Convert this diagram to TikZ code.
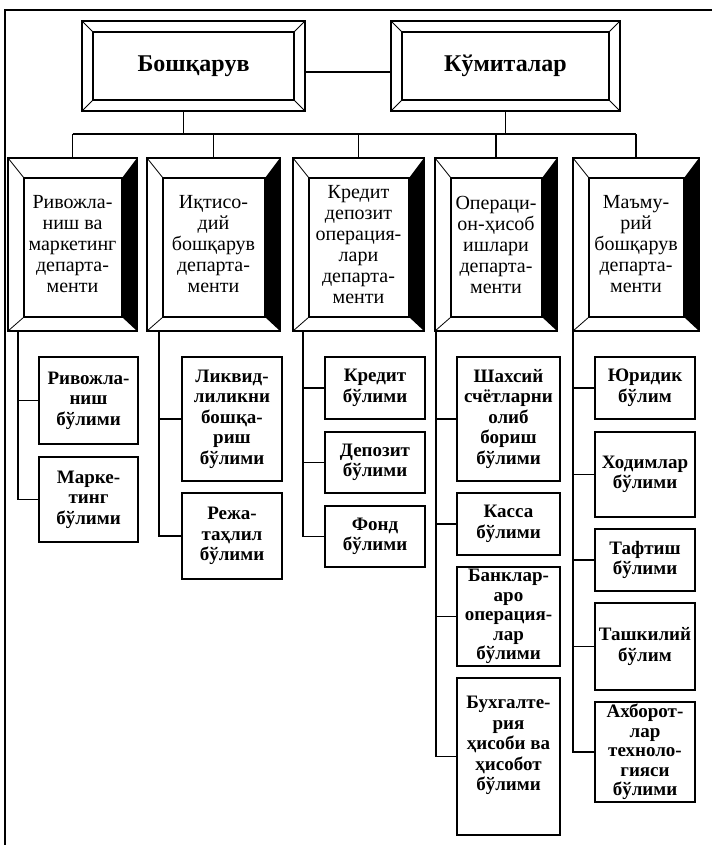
\documentclass[tikz,border=0pt]{standalone}
\usepackage{fontspec}
\setmainfont{Liberation Serif}
\usepackage{tikz}
\usetikzlibrary{calc}

\begin{document}
\begin{tikzpicture}[x=1pt,y=-1pt,
 topb/.style={draw,line width=2.6pt,outer sep=0pt,inner sep=0pt,minimum width=223pt,minimum height=90pt,font=\fontsize{24}{28}\selectfont\bfseries},
 dep/.style={draw,line width=1.4pt,outer sep=0pt,inner sep=0pt,minimum height=173pt,align=center,font=\fontsize{20}{21}\selectfont},
 sub/.style={draw,line width=1.5pt,outer sep=0pt,inner sep=0pt,align=center,font=\fontsize{19}{20.5}\selectfont\bfseries},
 tight/.style={font=\fontsize{19}{19.4}\selectfont\bfseries},
 ln/.style={line width=1.1pt}]
\useasboundingbox (0,0) rectangle (712,845);
\draw[ln] (712,10) -- (5,10) -- (5,845);

% top level
\node[topb] (bosh) at (193.5,66) {Бошқарув};
\node[topb,minimum width=229pt] (kum) at (505.5,66) {Кўмиталар};
\foreach \n in {bosh,kum}{
  \draw[line width=2pt] ($(\n.north west)+(11,11)$) rectangle ($(\n.south east)+(-11,-11)$);
  \draw[line width=0.8pt] (\n.north west) -- +(11,11) (\n.north east) -- +(-11,11)
    (\n.south west) -- +(11,-11) (\n.south east) -- +(-11,-11);}
\draw[ln] ([yshift=-6pt]bosh.east) -- ([yshift=-6pt]kum.west);

% departments
\foreach \n/\x/\w/\t in {d1/72.5/129/{Ривожла-\\ниш ва\\маркетинг\\департа-\\менти},
  d2/213.5/133/{Иқтисо-\\дий\\бошқарув\\департа-\\менти},
  d3/358.5/131/{Кредит\\депозит\\операция-\\лари\\департа-\\менти},
  d4/496/122/{Операци-\\он-ҳисоб\\ишлари\\департа-\\менти},
  d5/636/126/{Маъму-\\рий\\бошқарув\\департа-\\менти}}{
  \node[dep,minimum width=\w pt] (\n) at (\x,244.5) {\t};
  \coordinate (\n-tl) at ($(\n.north west)+(16,20)$);
  \coordinate (\n-br) at ($(\n.south east)+(-15,-14)$);
  \fill (\n.north east) -- (\n.south east) -- (\n-br) -- (\n-tl -| \n-br) -- cycle;
  \draw[line width=1.1pt] (\n-tl) rectangle (\n-br);
  \draw[line width=0.8pt] (\n.north west) -- (\n-tl) (\n.south west) -- (\n-tl |- \n-br);}

\coordinate (bus) at (0,134);
\draw[ln] ([xshift=-10pt]bosh.south) -- ([xshift=-10pt]bosh.south |- bus) (kum.south) -- (kum.south |- bus)
  (d1.north |- bus) -- (d5.north |- bus);
\foreach \i in {1,...,5} \draw[ln] (d\i.north |- bus) -- (d\i.north);

% sections
\node[sub,minimum width=99pt,minimum height=87pt] (r1) at (88.5,400.5) {Ривожла-\\ниш\\бўлими};
\node[sub,minimum width=99pt,minimum height=85pt] (m1) at (88.5,499.5) {Марке-\\тинг\\бўлими};
\node[sub,minimum width=100pt,minimum height=124pt] (l2) at (232,419) {Ликвид-\\лиликни\\бошқа-\\риш\\бўлими};
\node[sub,minimum width=100pt,minimum height=86pt] (p2) at (232,536) {Режа-\\таҳлил\\бўлими};
\node[sub,minimum width=100pt,minimum height=62pt] (k3) at (375,388) {Кредит\\бўлими};
\node[sub,minimum width=100pt,minimum height=61pt] (dp3) at (375,462.5) {Депозит\\бўлими};
\node[sub,minimum width=100pt,minimum height=61pt] (f3) at (375,536.5) {Фонд\\бўлими};
\node[sub,minimum width=103pt,minimum height=124pt] (sh4) at (508.5,419) {Шахсий\\счётларни\\олиб\\бориш\\бўлими};
\node[sub,minimum width=103pt,minimum height=62pt] (ka4) at (508.5,524) {Касса\\бўлими};
\node[sub,tight,minimum width=103pt,minimum height=99pt] (bn4) at (508.5,616.5) {Банклар-\\аро\\операция-\\лар\\бўлими};
\node[sub,minimum width=103pt,minimum height=157pt] (bx4) at (508.5,756.5) {Бухгалте-\\рия\\ҳисоби ва\\ҳисобот\\бўлими\\[5pt]\mbox{}};
\node[sub,minimum width=100pt,minimum height=62pt] (yu5) at (645,388) {Юридик\\бўлим};
\node[sub,minimum width=100pt,minimum height=85pt] (xo5) at (645,474.5) {Ходимлар\\бўлими};
\node[sub,minimum width=100pt,minimum height=62pt] (ta5) at (645,560) {Тафтиш\\бўлими};
\node[sub,minimum width=100pt,minimum height=87pt] (tk5) at (645,646.5) {Ташкилий\\бўлим};
\node[sub,tight,minimum width=100pt,minimum height=100pt] (ax5) at (645,752) {Ахборот-\\лар\\техноло-\\гияси\\бўлими};

\foreach \i/\x in {1/18,2/159,3/303,4/436,5/573} \coordinate (s\i) at (\x,0);
\foreach \i/\last/\rest in {1/m1/{r1},2/p2/{l2},3/f3/{k3,dp3},4/bx4/{sh4,ka4,bn4},5/ax5/{yu5,xo5,ta5,tk5}}{
  \draw[ln] (d\i.south -| s\i) |- (\last.west);
  \foreach \b in \rest \draw[ln] (s\i |- \b.west) -- (\b.west);}
\end{tikzpicture}
\end{document}
